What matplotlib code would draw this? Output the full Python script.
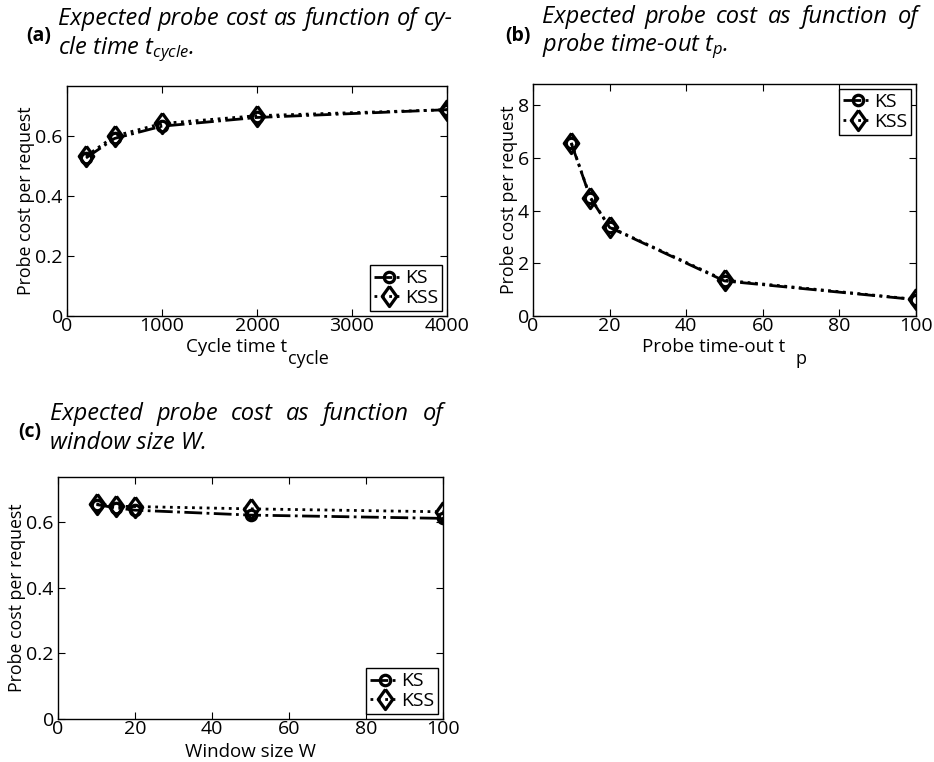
import matplotlib
matplotlib.use("Agg")
import matplotlib.pyplot as plt

plt.rcParams['font.family'] = ['Open Sans', 'DejaVu Sans']
plt.rcParams['mathtext.fontset'] = 'custom'
plt.rcParams['mathtext.it'] = 'Open Sans:italic'
plt.rcParams['mathtext.rm'] = 'Open Sans'

# (a) cycle time
cycle_x = [200, 500, 1000, 2000, 4000]
cycle_ks = [0.527, 0.592, 0.633, 0.662, 0.688]
cycle_kss = [0.533, 0.600, 0.642, 0.668, 0.688]

# (b) probe time-out
tp_x = [10, 15, 20, 50, 100]
tp_ks = [6.55, 4.47, 3.36, 1.33, 0.62]
tp_kss = [6.57, 4.49, 3.38, 1.36, 0.63]

# (c) window size
w_x = [10, 15, 20, 50, 100]
w_ks = [0.653, 0.643, 0.636, 0.621, 0.611]
w_kss = [0.655, 0.648, 0.647, 0.640, 0.631]

fig = plt.figure(figsize=(9.34, 7.62), dpi=100)
W, H = 934, 762
CAP = 17
# MATLAB-like diamond, a bit taller than wide
DIAMOND = [(0, 1), (0.72, 0), (0, -1), (-0.72, 0), (0, 1)]


def px_axes(l, t, r, b):
    return fig.add_axes([l / W, 1 - b / H, (r - l) / W, (b - t) / H])


def style(ax, xlim, ylim, xticks, yticks, yfmt):
    ax.set_xlim(*xlim)
    ax.set_ylim(*ylim)
    ax.set_xticks(xticks)
    ax.set_yticks(yticks)
    ax.set_yticklabels([yfmt(v) for v in yticks])
    ax.tick_params(direction='in', top=True, right=True, length=5,
                   width=0.8, labelsize=14)
    ax.tick_params(axis='x', pad=1)
    ax.tick_params(axis='y', pad=3)
    for s in ax.spines.values():
        s.set_linewidth(1.0)
    ax.set_ylabel('Probe cost per request', fontsize=12.8, labelpad=0)


def draw(ax, x, ks, kss, loc):
    ax.plot(x, ks, color='black', linestyle='-.', linewidth=2.0,
            marker='o', markersize=7.5, markerfacecolor='none',
            markeredgewidth=2.3, label='KS')
    ax.plot(x, kss, color='black', linestyle=':', linewidth=2.0,
            marker=DIAMOND, markersize=14.5, markerfacecolor='none',
            markeredgewidth=2.3, label='KSS')
    leg = ax.legend(loc=loc, fontsize=14, handlelength=1.5,
                    handletextpad=0.1, borderpad=0.2, labelspacing=0.1,
                    fancybox=False, framealpha=1, edgecolor='black',
                    borderaxespad=0.25)
    leg.get_frame().set_linewidth(1.0)


def xlabel_sub(ax, main, sub, gap):
    # MATLAB-style label with a dropped subscript, centred as a whole
    fig.canvas.draw()
    r = fig.canvas.get_renderer()
    t1 = ax.annotate(main, xy=(0.5, 0), xycoords='axes fraction',
                     xytext=(0, -22), textcoords='offset pixels',
                     fontsize=13.5, ha='left', va='top')
    t2 = ax.annotate(sub, xy=(0.5, 0), xycoords='axes fraction',
                     xytext=(0, -34), textcoords='offset pixels',
                     fontsize=13, ha='left', va='top')
    w1 = t1.get_window_extent(r).width
    w2 = t2.get_window_extent(r).width
    left = -(w1 + gap + w2) / 2
    t1.set_position((left, -22))
    t2.set_position((left + w1 + gap, -34))


def justify(words, x0, x1, y, size=CAP):
    # place words so the line fills x0..x1 in pixels
    fig.canvas.draw()
    r = fig.canvas.get_renderer()
    txts = [fig.text(0, 1 - y / H, w, fontsize=size, style='italic',
                     va='center', ha='left') for w in words]
    widths = [t.get_window_extent(r).width for t in txts]
    gap = (x1 - x0 - sum(widths)) / (len(words) - 1)
    x = x0
    for t, wd in zip(txts, widths):
        t.set_x(x / W)
        x += wd + gap


def line(text, x, y, size=CAP):
    fig.text(x / W, 1 - y / H, text, fontsize=size, style='italic',
             va='center', ha='left')


def label(tag, x, y):
    fig.text(x / W, 1 - y / H, tag, fontsize=14, fontweight='bold',
             va='center', ha='left')


# panel a
ax1 = px_axes(67, 86, 447, 316)
draw(ax1, cycle_x, cycle_ks, cycle_kss, 'lower right')
style(ax1, (0, 4000), (0, 0.767), [0, 1000, 2000, 3000, 4000],
      [0, 0.2, 0.4, 0.6], lambda v: '0' if v == 0 else f'{v:.1f}')
xlabel_sub(ax1, 'Cycle time t', 'cycle', 1)

# panel b
ax2 = px_axes(533, 84, 916, 316)
draw(ax2, tp_x, tp_ks, tp_kss, 'upper right')
style(ax2, (0, 100), (0, 8.8), [0, 20, 40, 60, 80, 100],
      [0, 2, 4, 6, 8], lambda v: f'{v:d}')
xlabel_sub(ax2, 'Probe time-out t', 'p', 10)

# panel c
ax3 = px_axes(58, 477, 443, 719)
draw(ax3, w_x, w_ks, w_kss, 'lower right')
style(ax3, (0, 100), (0, 0.737), [0, 20, 40, 60, 80, 100],
      [0, 0.2, 0.4, 0.6], lambda v: '0' if v == 0 else f'{v:.1f}')
ax3.set_xlabel('Window size W', fontsize=13.5, labelpad=3)

# captions
label('(a)', 26, 36)
justify('Expected probe cost as function of cy-'.split(), 58, 453, 19)
line(r'cle time $t_{cycle}$.', 58, 49)

label('(b)', 505, 36)
justify('Expected probe cost as function of'.split(), 542, 918, 17)
line(r'probe time-out $t_{p}$.', 542, 46)

label('(c)', 18, 432)
justify('Expected probe cost as function of'.split(), 50, 443, 414)
line('window size W.', 50, 443)

fig.savefig('out.png', dpi=100)
